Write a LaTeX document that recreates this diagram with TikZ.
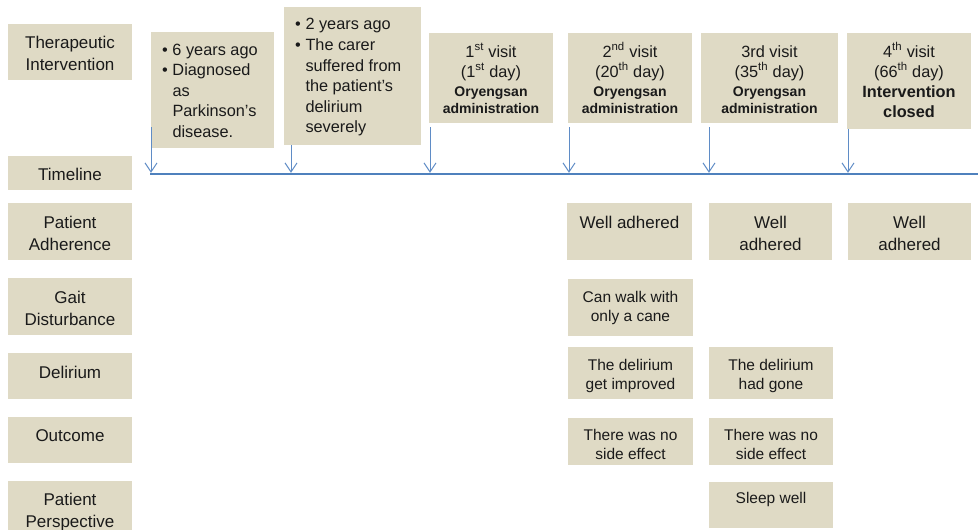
\documentclass[tikz,border=0pt]{standalone}
\usepackage{fontspec}
\setmainfont{Liberation Sans}
\usetikzlibrary{arrows.meta}
\definecolor{boxfill}{HTML}{DFDAC5}
\definecolor{tlblue}{HTML}{4F81BD}
\definecolor{tkblue}{HTML}{5F8CC6}
\definecolor{txt}{HTML}{1A1A1A}
\newcommand\mkcell[5]{\parbox[t][#2][t]{#1}{#4\centering\rule{0pt}{#3}#5\par}}
\newcommand\mkleft[4]{\parbox[t][#2][t]{#1}{#3\raggedright #4}}
\newcommand\bl[1]{\leftskip=11pt\noindent\makebox[10.5pt][l]{•}#1\par}
\newcommand\cl[1]{\leftskip=21.5pt\noindent #1\par}
\newcommand\fL{\fontsize{17}{22}\selectfont}
\newcommand\fT{\fontsize{16.3}{20.6}\selectfont}
\newcommand\fV{\fontsize{16.3}{20}\selectfont}
\newcommand\fB{\fontsize{14}{17}\selectfont\bfseries}
\newcommand\fR{\fontsize{15.5}{19.5}\selectfont}
\begin{document}
\begin{tikzpicture}[x=1pt,y=-1pt,
  cell/.style={fill=boxfill, inner sep=0pt, outer sep=0pt, anchor=north west, text=txt},
  tick/.style={draw=tkblue, line width=1pt, -{Straight Barb[length=9pt,width=12pt]}},
  tline/.style={draw=tlblue, line width=2.6pt}]
\useasboundingbox (0,0) rectangle (978,530);
% left column
\node[cell] (ti) at (8,24) {\mkcell{124pt}{56pt}{24pt}{\fL}{Therapeutic\\Intervention}};
\node[cell] (tlab) at (8,156) {\mkcell{124pt}{34pt}{24pt}{\fL}{Timeline}};
\node[cell] (pa) at (8,203) {\mkcell{124pt}{57pt}{25pt}{\fL}{Patient\\Adherence}};
\node[cell] (gd) at (8,278) {\mkcell{124pt}{57pt}{25pt}{\fL}{Gait\\Disturbance}};
\node[cell] (dl) at (8,353) {\mkcell{124pt}{46pt}{25pt}{\fL}{Delirium}};
\node[cell] (oc) at (8,417) {\mkcell{124pt}{46pt}{24pt}{\fL}{Outcome}};
\node[cell] (pp) at (8,481) {\mkcell{124pt}{52pt}{24pt}{\fL}{Patient\\Perspective}};
% top boxes
\node[cell] (b1) at (151,32) {\mkleft{123pt}{116pt}{\fT}{\bl{\rule{0pt}{23pt}6 years ago}\bl{Diagnosed}\cl{as}\cl{Parkinson’s}\cl{disease.}}};
\node[cell] (b2) at (284,7) {\mkleft{137pt}{138pt}{\fT}{\bl{\rule{0pt}{23pt}2 years ago}\bl{The carer}\cl{suffered from}\cl{the patient’s}\cl{delirium}\cl{severely}}};
\node[cell] (b3) at (429,33) {\mkcell{124pt}{90pt}{24pt}{\fV}{1\textsuperscript{st} visit\\(1\textsuperscript{st} day)\par\vspace{2pt}{\fB Oryengsan\\administration\par}}};
\node[cell] (b4) at (568,33) {\mkcell{124pt}{90pt}{24pt}{\fV}{2\textsuperscript{nd} visit\\(20\textsuperscript{th} day)\par\vspace{2pt}{\fB Oryengsan\\administration\par}}};
\node[cell] (b5) at (701,33) {\mkcell{137pt}{90pt}{24pt}{\fV}{3rd visit\\(35\textsuperscript{th} day)\par\vspace{2pt}{\fB Oryengsan\\administration\par}}};
\node[cell] (b6) at (847,33) {\mkcell{124pt}{96pt}{24pt}{\fV}{4\textsuperscript{th} visit\\(66\textsuperscript{th} day)\par{\fontsize{16.3}{20}\selectfont\bfseries Intervention\\closed\par}}};
% right cells
\node[cell] (a1c) at (567,203) {\mkcell{125pt}{57pt}{25pt}{\fL}{Well adhered}};
\node[cell] (a2c) at (709,203) {\mkcell{123pt}{57pt}{25pt}{\fL}{Well\\adhered}};
\node[cell] (a3c) at (848,203) {\mkcell{123pt}{57pt}{25pt}{\fL}{Well\\adhered}};
\node[cell] (g1) at (568,279) {\mkcell{125pt}{57pt}{23pt}{\fR}{Can walk with\\only a cane}};
\node[cell] (d1) at (568,347) {\mkcell{125pt}{52pt}{23pt}{\fR}{The delirium\\get improved}};
\node[cell] (d2) at (709,347) {\mkcell{124pt}{52pt}{23pt}{\fR}{The delirium\\had gone}};
\node[cell] (o1) at (568,418) {\mkcell{125pt}{47pt}{22pt}{\fR}{There was no\\side effect}};
\node[cell] (o2) at (709,418) {\mkcell{124pt}{47pt}{22pt}{\fR}{There was no\\side effect}};
\node[cell] (p2) at (709,482) {\mkcell{124pt}{46pt}{21pt}{\fR}{Sleep well}};
% timeline
\coordinate (tlL) at (150,174);
\coordinate (tlR) at (978,174);
\coordinate (s1) at (151,127);
\coordinate (s2) at (291,145);
\coordinate (s3) at (430,127);
\coordinate (s4) at (569,127);
\coordinate (s5) at (709,127);
\coordinate (s6) at (848,129);
\foreach \s in {s1,s2,s3,s4,s5,s6}
  \draw[tick] (\s) -- ([yshift=1.2pt]\s |- tlL);
\draw[tline] (tlL) -- (tlR);
\end{tikzpicture}
\end{document}
